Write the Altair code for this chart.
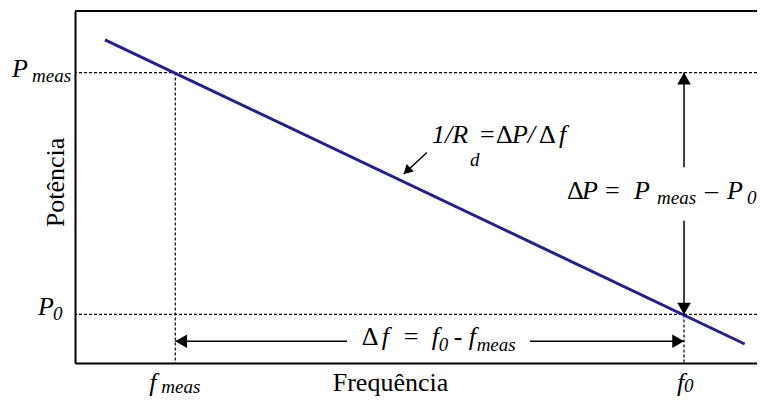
import math

import altair as alt
import pandas as pd

# Droop characteristic: power falls linearly with frequency
line_freq = [4.4, 98.2]
line_power = [91.8, 5.4]

# Operating points marked on the axes
f_meas, f_0 = 14.7, 89.3
p_meas, p_0 = 82.5, 13.8

# Dimension arrows: ΔP stands at f_0, Δf runs at this power level
df_level = 6.2
dp_gap = [40.4, 55.6]   # break in the ΔP shaft where its label sits
df_gap = [39.9, 66.7]   # break in the Δf shaft where its label sits

# Slope callout arrow (tail, then tip)
callout_freq = [51.6, 48.2]
callout_power = [59.8, 53.7]

SERIF = "Liberation Serif"
NAVY = "#22228a"

W, H = 682, 352
xs = alt.Scale(domain=[0, 100], nice=False, zero=False)
ys = alt.Scale(domain=[0, 100], nice=False, zero=False)
PX_X, PX_Y = W / 100, H / 100   # pixels per data unit

xaxis = alt.Axis(
    title="Frequência", labels=False, ticks=False, grid=False,
    domainColor="black", domainWidth=2,
    titleFont=SERIF, titleFontSize=26, titleFontWeight="normal", titleColor="black",
    titleX=315, titleY=27, titleAlign="center", titleBaseline="alphabetic",
)
yaxis = alt.Axis(
    title="Potência", labels=False, ticks=False, grid=False,
    domainColor="black", domainWidth=2,
    titleFont=SERIF, titleFontSize=26, titleFontWeight="normal", titleColor="black",
    titleAngle=270, titleX=-12, titleY=171, titleAlign="center", titleBaseline="alphabetic",
)


def X(col):
    return alt.X(col, type="quantitative", scale=xs, axis=xaxis)


def Y(col):
    return alt.Y(col, type="quantitative", scale=ys, axis=yaxis)


# ---- formula text: runs of (text, dx px, dy px, style) around an anchor ----
def runs(anchor_f, anchor_p, pieces):
    return [
        {"f": anchor_f + dx / PX_X, "p": anchor_p - dy / PX_Y, "txt": t, "kind": k}
        for t, dx, dy, k in pieces
    ]


# kind: "I" italic, "S" italic subscript, "N" upright
rows = []
rows += runs(0, p_meas, [("P", -63, 4, "I"), ("meas", -43, 9, "S")])
rows += runs(0, p_0, [("P", -37, 1, "I"), ("0", -22, 6, "S")])
rows += runs(f_meas, 0, [("f", -26, 28, "I"), ("meas", -14, 30, "S")])
rows += runs(f_0, 0, [("f", -7, 28, "I"), ("0", 0, 29, "S")])
rows += runs((f_meas + f_0) / 2, df_level, [
    ("Δ", -68, 4, "N"), ("f", -48, 4, "I"), ("=", -26, 4, "N"),
    ("f", 2, 4, "I"), ("0", 9, 10, "S"), ("-", 24, 4, "N"),
    ("f", 39, 4, "I"), ("meas", 47, 10, "S"),
])
rows += runs(f_0, (p_meas + p_0) / 2, [
    ("Δ", -117, 5, "N"), ("P", -102, 5, "I"), ("=", -79, 5, "N"),
    ("P", -50, 5, "I"), ("meas", -27, 10, "S"), ("–", 21, 5, "N"),
    ("P", 43, 5, "I"), ("0", 63, 10, "S"),
])
rows += runs(callout_freq[0], callout_power[0], [
    ("1/R", 5, -10, "I"), ("d", 43, 13, "S"), ("=", 53, -10, "N"),
    ("Δ", 69, -10, "N"), ("P/", 85, -10, "I"), ("Δ", 112, -10, "N"),
    ("f", 132, -10, "I"),
])
text_df = pd.DataFrame(rows)


def text_layer(kind, size, style):
    return alt.Chart(text_df[text_df["kind"] == kind]).mark_text(
        align="left", baseline="alphabetic", font=SERIF, fontSize=size,
        fontStyle=style, color="black",
    ).encode(x=X("f"), y=Y("p"), text="txt:N")


texts = [
    text_layer("I", 26, "italic"),
    text_layer("S", 19, "italic"),
    text_layer("N", 26, "normal"),
]

# Frame top edge (left and bottom edges are the axis domains)
top_edge = alt.Chart(pd.DataFrame({"p": [ys.domain[1]]})).mark_rule(
    color="black", strokeWidth=2
).encode(y=Y("p"))

# Dotted guides
h_guides = alt.Chart(pd.DataFrame({"p": [p_meas, p_0]})).mark_rule(
    color="black", strokeWidth=1.2, strokeDash=[3, 2]
).encode(y=Y("p"))

v_guides = alt.Chart(
    pd.DataFrame({"f": [f_meas, f_0], "p": [p_meas, p_0], "p2": [0, 0]})
).mark_rule(color="black", strokeWidth=1.2, strokeDash=[3, 2]).encode(
    x=X("f"), y=Y("p"), y2=alt.Y2("p2")
)

# The characteristic line
droop = alt.Chart(pd.DataFrame({"f": line_freq, "p": line_power})).mark_line(
    color=NAVY, strokeWidth=3
).encode(x=X("f"), y=Y("p"))

# Arrow shafts
shafts = pd.DataFrame({
    "f":  [f_0, f_0, f_meas, df_gap[1], callout_freq[0]],
    "f2": [f_0, f_0, df_gap[0], f_0, callout_freq[1]],
    "p":  [p_meas, dp_gap[0], df_level, df_level, callout_power[0]],
    "p2": [dp_gap[1], p_0, df_level, df_level, callout_power[1]],
})
shaft_layer = alt.Chart(shafts).mark_rule(color="black", strokeWidth=1.5).encode(
    x=X("f"), x2=alt.X2("f2"), y=Y("p"), y2=alt.Y2("p2")
)


# Arrowheads: built-in triangles, rotated clockwise from "up";
# each is centred half its length back from the tip it points at.
def head(f_tip, p_tip, ang, r):
    h = math.sqrt(3) * r / 2
    sx, sy = math.sin(math.radians(ang)), -math.cos(math.radians(ang))
    return {"f": f_tip - h * sx / PX_X, "p": p_tip + h * sy / PX_Y,
            "ang": ang, "sz": (2 * r) ** 2}


heads = pd.DataFrame([
    head(f_0, p_meas, 0, 6.8),
    head(f_0, p_0, 180, 6.8),
    head(f_meas, df_level, 270, 6.8),
    head(f_0, df_level, 90, 6.8),
    head(callout_freq[1], callout_power[1], 226, 5.2),
])
head_layer = alt.Chart(heads).mark_point(
    shape="triangle-up", filled=True, color="black", opacity=1, strokeWidth=0
).encode(
    x=X("f"), y=Y("p"),
    angle=alt.Angle("ang:Q", scale=None),
    size=alt.Size("sz:Q", scale=None),
)

chart = alt.layer(
    *texts, h_guides, v_guides, top_edge, droop, shaft_layer, head_layer
).properties(
    width=W, height=H,
    autosize=alt.AutoSizeParams(type="none"),
    padding={"left": 75, "top": 11, "right": 0, "bottom": 38},
).configure_view(strokeWidth=0)

chart.save("out.html", embed_options={"renderer": "svg", "actions": False})
